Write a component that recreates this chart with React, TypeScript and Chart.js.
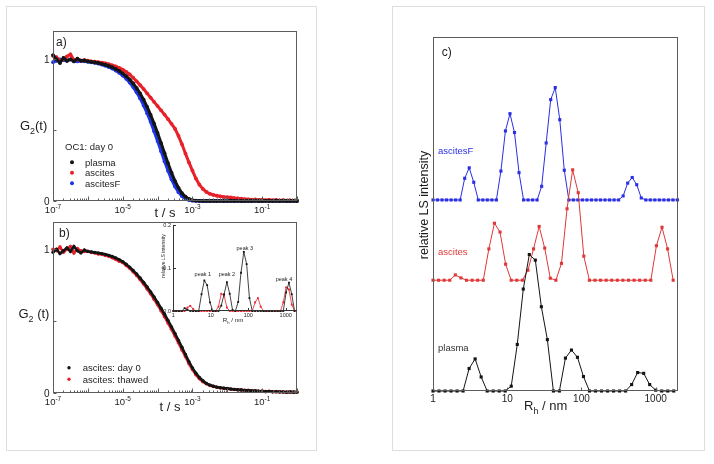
import { useEffect, useRef } from 'react';
import { Chart, registerables } from 'chart.js';

Chart.register(...registerables);

// ============================ DATA ============================
// panels a) and b): log10(t / s) of the plotted correlator channels
const T_EXP = [
  -7, -6.9, -6.8, -6.7, -6.6, -6.5, -6.4, -6.3, -6.2, -6.1,
  -6, -5.9, -5.8, -5.7, -5.6, -5.5, -5.4, -5.3, -5.2, -5.1,
  -5, -4.9, -4.8, -4.7, -4.6, -4.5, -4.4, -4.3, -4.2, -4.1,
  -4, -3.9, -3.8, -3.7, -3.6, -3.5, -3.4, -3.3, -3.2, -3.1,
  -3, -2.9, -2.8, -2.7, -2.6, -2.5, -2.4, -2.3, -2.2, -2.1,
  -2, -1.9, -1.8, -1.7, -1.6, -1.5, -1.4, -1.3, -1.2, -1.1,
  -1, -0.9, -0.8, -0.7, -0.6, -0.5, -0.4, -0.3, -0.2, -0.1, 0,
];

// a) OC1: day 0
const A_PLASMA = [
  1.03, 1.0, 0.975, 1.01, 0.99, 1.0, 0.985, 1.005, 0.99, 0.992,
  0.985, 0.982, 0.979, 0.974, 0.968, 0.962, 0.954, 0.944, 0.932, 0.918,
  0.901, 0.881, 0.858, 0.83, 0.797, 0.759, 0.715, 0.665, 0.608, 0.546,
  0.48, 0.409, 0.337, 0.267, 0.2, 0.141, 0.093, 0.055, 0.03, 0.014,
  0.006, 0.002, 0.001, 0.0, 0.001, 0.0, 0.002, 0.0, 0.001, 0.0,
  0.0, 0.002, 0.0, 0.001, 0.0, 0.0, 0.001, 0.0, 0.002, 0.0,
  0.0, 0.001, 0.0, 0.0, 0.002, 0.0, 0.001, 0.0, 0.0, 0.001, 0.0,
];
const A_ASCITES = [
  1.025, 1.015, 0.99, 1.0, 1.02, 1.035, 0.995, 1.0, 0.99, 0.995,
  0.99, 0.986, 0.983, 0.98, 0.977, 0.972, 0.966, 0.958, 0.95, 0.94,
  0.927, 0.912, 0.893, 0.87, 0.845, 0.818, 0.79, 0.76, 0.73, 0.7,
  0.67, 0.64, 0.61, 0.578, 0.545, 0.51, 0.46, 0.4, 0.335, 0.272,
  0.215, 0.158, 0.115, 0.085, 0.064, 0.051, 0.043, 0.037, 0.033, 0.029,
  0.027, 0.025, 0.021, 0.019, 0.016, 0.013, 0.012, 0.01, 0.011, 0.008,
  0.009, 0.006, 0.008, 0.005, 0.007, 0.004, 0.006, 0.003, 0.005, 0.002, 0.004,
];
const A_ASCITESF = [
  0.98, 0.99, 1.0, 0.995, 0.99, 1.0, 0.99, 0.985, 0.99, 0.986,
  0.983, 0.979, 0.975, 0.97, 0.963, 0.955, 0.946, 0.935, 0.921, 0.905,
  0.886, 0.863, 0.836, 0.804, 0.767, 0.724, 0.675, 0.62, 0.559, 0.493,
  0.423, 0.352, 0.28, 0.213, 0.153, 0.102, 0.062, 0.034, 0.016, 0.007,
  0.002, 0.001, 0.0, 0.0, 0.0, 0.001, 0.0, 0.0, 0.002, 0.0,
  0.001, 0.0, 0.0, 0.001, 0.0, 0.002, 0.0, 0.0, 0.001, 0.0,
  0.0, 0.001, 0.0, 0.002, 0.0, 0.0, 0.001, 0.0, 0.0, 0.001, 0.0,
];

// b) ascites: day 0 vs thawed
const B_DAY0 = [
  0.98, 1.0, 0.97, 0.99, 1.01, 0.985, 1.02, 0.99, 0.975, 0.995,
  0.985, 0.982, 0.978, 0.974, 0.97, 0.965, 0.958, 0.95, 0.94, 0.928,
  0.914, 0.896, 0.876, 0.853, 0.828, 0.8, 0.77, 0.738, 0.704, 0.668,
  0.63, 0.59, 0.548, 0.505, 0.46, 0.414, 0.366, 0.318, 0.268, 0.218,
  0.175, 0.138, 0.108, 0.085, 0.067, 0.055, 0.047, 0.041, 0.037, 0.034,
  0.031, 0.028, 0.025, 0.023, 0.021, 0.019, 0.018, 0.016, 0.015, 0.013,
  0.012, 0.01, 0.011, 0.009, 0.008, 0.009, 0.007, 0.006, 0.008, 0.005, 0.006,
];
const B_THAWED = [
  1.0, 0.99, 1.015, 0.98, 1.0, 1.02, 0.975, 1.005, 0.99, 0.985,
  0.986, 0.978, 0.975, 0.968, 0.965, 0.957, 0.951, 0.941, 0.93, 0.917,
  0.908, 0.888, 0.868, 0.843, 0.818, 0.789, 0.758, 0.724, 0.69, 0.652,
  0.614, 0.573, 0.531, 0.487, 0.443, 0.396, 0.349, 0.3, 0.252, 0.204,
  0.163, 0.127, 0.099, 0.078, 0.064, 0.053, 0.046, 0.04, 0.036, 0.033,
  0.03, 0.026, 0.024, 0.022, 0.022, 0.017, 0.019, 0.014, 0.016, 0.012,
  0.013, 0.009, 0.012, 0.008, 0.01, 0.007, 0.009, 0.005, 0.008, 0.006, 0.007,
];

const T_DECADES = [-7, -6, -5, -4, -3, -2, -1, 0];
const T_LABELED = [-7, -5, -3, -1];
const G2_TICKS = [0, 0.5, 1];
const G2_LABELED = [0, 1];

// c) hydrodynamic radius distributions (R_h / nm) and relative LS intensity
const RH_PLASMA = [
  1.0, 1.205, 1.453, 1.751, 2.11, 2.544, 3.066, 3.696, 4.455, 5.37,
  6.471, 7.801, 9.401, 11.33, 13.66, 16.46, 19.85, 23.92, 28.83, 34.75,
  41.88, 50.48, 60.85, 73.34, 88.4, 106.5, 128.4, 154.8, 186.6, 224.9,
  271.0, 326.7, 393.8, 474.6, 572.0, 689.5, 831.0, 1002, 1207, 1455, 1754,
];
const INT_PLASMA = [
  0, 0, 0, 0, 0, 0, 0.028, 0.04, 0.0175, 0,
  0, 0, 0, 0.006, 0.058, 0.127, 0.17, 0.163, 0.105, 0.064,
  0, 0, 0.041, 0.051, 0.042, 0.018, 0, 0, 0, 0,
  0, 0, 0, 0.008, 0.023, 0.022, 0.008, 0.001, 0, 0, 0,
];
const RH_ASCITES = [
  1, 1.189, 1.414, 1.682, 2, 2.378, 2.828, 3.364, 4, 4.757,
  5.657, 6.727, 8, 9.514, 11.31, 13.45, 16, 19.03, 22.63, 26.91,
  32, 38.05, 45.25, 53.82, 64, 76.11, 90.51, 107.6, 128, 152.2,
  181.0, 215.3, 256, 304.4, 362.0, 430.5, 512, 608.9, 724.1, 861.1,
  1024, 1218, 1448, 1722,
];
const INT_ASCITES = [
  0, 0, 0, 0, 0.0066, 0.0029, 0, 0, 0, 0,
  0.039, 0.071, 0.06, 0.02, 0, 0, 0, 0.0125, 0.039, 0.067,
  0.04, 0.0025, 0, 0.021, 0.089, 0.1375, 0.109, 0.03, 0, 0,
  0, 0, 0, 0, 0, 0, 0, 0, 0, 0,
  0.043, 0.066, 0.039, 0,
];
const RH_ASCITESF = [
  1.0, 1.151, 1.324, 1.524, 1.754, 2.018, 2.323, 2.673, 3.076, 3.54,
  4.074, 4.688, 5.395, 6.209, 7.145, 8.222, 9.462, 10.89, 12.53, 14.42,
  16.6, 19.1, 21.98, 25.29, 29.11, 33.5, 38.55, 44.36, 51.05, 58.75,
  67.61, 77.8, 89.54, 103.0, 118.6, 136.5, 157.0, 180.7, 208.0, 239.3,
  275.4, 317.0, 364.8, 419.8, 483.1, 556.0, 639.8, 736.3, 847.3, 975.0,
  1122, 1291, 1486, 1710, 1968,
];
const INT_ASCITESF = [
  0, 0, 0, 0, 0, 0, 0, 0.027, 0.04, 0.022,
  0, 0, 0, 0, 0, 0.036, 0.086, 0.1075, 0.084, 0.034,
  0, 0, 0, 0, 0.017, 0.071, 0.125, 0.14, 0.1, 0.037,
  0, 0, 0, 0, 0, 0, 0, 0, 0, 0,
  0, 0, 0.005, 0.021, 0.028, 0.019, 0.0025, 0, 0, 0,
  0, 0, 0, 0, 0,
];
// vertical offsets of the stacked distributions in panel c)
const OFFSET_PLASMA = 0;
const OFFSET_ASCITES = 0.138;
const OFFSET_ASCITESF = 0.238;

// inset of b): ascites day 0 (same distribution as INT_ASCITES) vs thawed, on the RH_ASCITES grid
const INT_THAWED = [
  0, 0, 0, 0, 0, 0.008, 0.012, 0.005, 0, 0,
  0, 0, 0, 0, 0, 0, 0.01, 0.04, 0.036, 0.008,
  0, 0, 0, 0, 0, 0, 0, 0, 0, 0.02,
  0.03, 0.01, 0, 0, 0, 0, 0, 0, 0, 0.02,
  0.055, 0.05, 0.015, 0,
];

const RH_DECADES = [1, 10, 100, 1000];
const RH_LABELS = ['1', '10', '100', '1000'];
const INSET_Y_TICKS = [0, 0.1, 0.2];
const INSET_Y_LABELS = ['0.0', '0.1', '0.2'];
const PEAK_NAMES = ['peak 1', 'peak 2', 'peak 3', 'peak 4'];
const PEAK_INDEX = [11, 19, 25, 41];

// ============================ STYLE / LAYOUT ============================
const W = 714;
const H = 464;
const FONT = '"Liberation Sans", Arial, Helvetica, sans-serif';
const AXIS = '#5c5c5c';
const TEXT = '#1c1c1c';
const BLACK = '#141414';
const RED = '#e8202a';
const BLUE = '#1f34e8';
const RED_C = '#e03838';
const BLUE_C = '#2a2ee4';

type Area = { l: number; t: number; r: number; b: number };
const AREA_A: Area = { l: 53, t: 31, r: 297, b: 201 };
const AREA_B: Area = { l: 53, t: 222, r: 297, b: 393 };
const AREA_IN: Area = { l: 173, t: 225, r: 297, b: 311 };
const AREA_C: Area = { l: 433, t: 37, r: 678, b: 391 };

// ============================ DRAW HELPERS ============================
type Part = { s: string; sub?: boolean; sup?: boolean };

function rich(
  ctx: CanvasRenderingContext2D, parts: Part[], x: number, cy: number, size: number,
  align: 'left' | 'center' | 'right' = 'left', color = TEXT,
) {
  const small = size * 0.68;
  const fontOf = (p: Part) => `${p.sub || p.sup ? small : size}px ${FONT}`;
  let total = 0;
  const widths = parts.map((p) => {
    ctx.font = fontOf(p);
    const w = ctx.measureText(p.s).width;
    total += w;
    return w;
  });
  let cx = align === 'center' ? x - total / 2 : align === 'right' ? x - total : x;
  const base = cy + size * 0.36;
  ctx.fillStyle = color;
  ctx.textAlign = 'left';
  ctx.textBaseline = 'alphabetic';
  parts.forEach((p, i) => {
    ctx.font = fontOf(p);
    const y = p.sub ? base + size * 0.3 : p.sup ? base - size * 0.45 : base;
    ctx.fillText(p.s, cx, y);
    cx += widths[i];
  });
}
const txt = (ctx: CanvasRenderingContext2D, s: string, x: number, cy: number, size: number,
  align: 'left' | 'center' | 'right' = 'left', color = TEXT) => rich(ctx, [{ s }], x, cy, size, align, color);

function vtxt(ctx: CanvasRenderingContext2D, s: string, cx: number, cy: number, size: number, color = TEXT) {
  ctx.save();
  ctx.translate(cx, cy);
  ctx.rotate(-Math.PI / 2);
  rich(ctx, [{ s }], 0, 0, size, 'center', color);
  ctx.restore();
}

function seg(ctx: CanvasRenderingContext2D, x1: number, y1: number, x2: number, y2: number) {
  ctx.beginPath();
  ctx.moveTo(x1, y1);
  ctx.lineTo(x2, y2);
  ctx.stroke();
}

function edges(a: { left: number; top: number; right: number; bottom: number }) {
  return {
    L: Math.round(a.left) + 0.5,
    T: Math.round(a.top) + 0.5,
    R: Math.round(a.right) - 0.5,
    B: Math.round(a.bottom) - 0.5,
  };
}

function frame(ctx: CanvasRenderingContext2D, a: any, color = AXIS) {
  const { L, T, R, B } = edges(a);
  ctx.strokeStyle = color;
  ctx.lineWidth = 1;
  ctx.strokeRect(L, T, R - L, B - T);
}

function logTicks(ctx: CanvasRenderingContext2D, scale: any, a: any, decades: number[], major: number, minor: number) {
  const { B } = edges(a);
  decades.forEach((v, k) => {
    const px = Math.round(scale.getPixelForValue(v)) + 0.5;
    seg(ctx, px, B, px, B - major);
    if (minor > 0 && k < decades.length - 1) {
      for (let m = 2; m <= 9; m++) {
        const p = Math.round(scale.getPixelForValue(m * v)) + 0.5;
        seg(ctx, p, B, p, B - minor);
      }
    }
  });
}

function yTicks(ctx: CanvasRenderingContext2D, scale: any, a: any, values: number[], len: number) {
  const { L } = edges(a);
  values.forEach((v) => {
    const py = Math.round(scale.getPixelForValue(v)) + 0.5;
    seg(ctx, L, py, L + len, py);
  });
}

function legend(ctx: CanvasRenderingContext2D, chart: any, dotX: number, y0: number, dy: number, textX: number, r: number, size: number) {
  chart.data.datasets.forEach((ds: any, i: number) => {
    const y = y0 + i * dy;
    ctx.fillStyle = ds.backgroundColor;
    ctx.beginPath();
    ctx.arc(dotX, y, r, 0, Math.PI * 2);
    ctx.fill();
    txt(ctx, ds.label, textX, y, size);
  });
}

// ============================ PANEL DECORATIONS ============================
function drawA(chart: any) {
  const ctx: CanvasRenderingContext2D = chart.ctx;
  const a = chart.chartArea;
  const xs = chart.scales.x;
  const ys = chart.scales.y;
  ctx.save();
  frame(ctx, a);
  ctx.strokeStyle = AXIS;
  logTicks(ctx, xs, a, T_DECADES.map((e) => Math.pow(10, e)), 4, 2);
  yTicks(ctx, ys, a, G2_TICKS, 3);
  G2_LABELED.forEach((v) => txt(ctx, String(v), a.left - 3.5, ys.getPixelForValue(v), 10, 'right'));
  T_LABELED.forEach((e) =>
    rich(ctx, [{ s: '10' }, { s: String(e), sup: true }], xs.getPixelForValue(Math.pow(10, e)), a.bottom + 8.5, 9.5, 'center'));
  rich(ctx, [{ s: 't / s' }], 165, 212, 13, 'center');
  rich(ctx, [{ s: 'G' }, { s: '2', sub: true }, { s: '(t)' }], 20, 125, 13);
  txt(ctx, 'a)', 56, 41.7, 12);
  txt(ctx, 'OC1: day 0', 65, 147, 9.5);
  legend(ctx, chart, 72, 162.3, 10.5, 85, 2, 9.5);
  ctx.restore();
}

function drawB(chart: any) {
  const ctx: CanvasRenderingContext2D = chart.ctx;
  const a = chart.chartArea;
  const xs = chart.scales.x;
  const ys = chart.scales.y;
  ctx.save();
  frame(ctx, a);
  ctx.strokeStyle = AXIS;
  logTicks(ctx, xs, a, T_DECADES.map((e) => Math.pow(10, e)), 4, 2);
  yTicks(ctx, ys, a, G2_TICKS, 3);
  G2_LABELED.forEach((v) => txt(ctx, String(v), a.left - 3.5, ys.getPixelForValue(v), 10, 'right'));
  T_LABELED.forEach((e) =>
    rich(ctx, [{ s: '10' }, { s: String(e), sup: true }], xs.getPixelForValue(Math.pow(10, e)), a.bottom + 9, 9.5, 'center'));
  rich(ctx, [{ s: 't / s' }], 170, 406, 13, 'center');
  rich(ctx, [{ s: 'G' }, { s: '2', sub: true }, { s: ' (t)' }], 18.5, 313, 13);
  txt(ctx, 'b)', 59, 232.3, 12);
  legend(ctx, chart, 69, 367.7, 11.6, 82.7, 1.7, 9.5);
  ctx.restore();
}

function drawInset(chart: any) {
  const ctx: CanvasRenderingContext2D = chart.ctx;
  const a = chart.chartArea;
  const xs = chart.scales.x;
  const ys = chart.scales.y;
  const { L, B } = edges(a);
  ctx.save();
  ctx.strokeStyle = '#333';
  ctx.lineWidth = 1;
  seg(ctx, L, Math.round(a.top), L, B);
  seg(ctx, L, B, Math.round(a.right), B);
  logTicks(ctx, xs, a, RH_DECADES, 2.5, 0);
  yTicks(ctx, ys, a, INSET_Y_TICKS, 2.5);
  INSET_Y_TICKS.forEach((v, i) => txt(ctx, INSET_Y_LABELS[i], a.left - 2, ys.getPixelForValue(v), 5.5, 'right'));
  RH_DECADES.forEach((v, i) => txt(ctx, RH_LABELS[i], xs.getPixelForValue(v), a.bottom + 4.5, 5.5, 'center'));
  rich(ctx, [{ s: 'R' }, { s: 'h', sub: true }, { s: ' / nm' }], 233, 319.5, 6.2, 'center');
  vtxt(ctx, 'relative LS intensity', 162.7, 256, 5);
  const dx = [-1.5, 0, 1, -5];
  const dy = [-6.5, -8, -3.5, -4];
  PEAK_INDEX.forEach((idx, k) => {
    const px = xs.getPixelForValue(RH_ASCITES[idx]) + dx[k];
    const py = ys.getPixelForValue(INT_ASCITES[idx]) + dy[k];
    txt(ctx, PEAK_NAMES[k], px, py, 5.5, 'center');
  });
  ctx.restore();
}

function drawC(chart: any) {
  const ctx: CanvasRenderingContext2D = chart.ctx;
  const a = chart.chartArea;
  const xs = chart.scales.x;
  ctx.save();
  frame(ctx, a);
  ctx.strokeStyle = AXIS;
  logTicks(ctx, xs, a, RH_DECADES, 3, 0);
  RH_DECADES.forEach((v, i) => txt(ctx, RH_LABELS[i], xs.getPixelForValue(v), a.bottom + 7.5, 10, 'center'));
  rich(ctx, [{ s: 'R' }, { s: 'h', sub: true }, { s: ' / nm' }], 545.7, 405.5, 13, 'center');
  vtxt(ctx, 'relative LS intensity', 423, 205, 12.5);
  txt(ctx, 'c)', 441.7, 51.7, 12);
  const labelY = [347.7, 251.7, 151];
  const labelColor = ['#333', RED_C, BLUE_C];
  chart.data.datasets.forEach((ds: any, i: number) => txt(ctx, ds.label, 438, labelY[i], 9.5, 'left', labelColor[i]));
  ctx.restore();
}

// ============================ CHART FACTORY ============================
function makeChart(canvas: HTMLCanvasElement, area: Area, x: any, y: any, datasets: any[], draw: (c: any) => void) {
  return new Chart(canvas, {
    type: 'scatter',
    data: { datasets },
    options: {
      responsive: false,
      animation: false,
      events: [],
      layout: { autoPadding: false, padding: { left: area.l, top: area.t, right: W - area.r, bottom: H - area.b } },
      plugins: { legend: { display: false }, tooltip: { enabled: false } },
      scales: { x: { ...x, display: false }, y: { ...y, display: false } },
      elements: { line: { tension: 0 } },
    } as any,
    plugins: [{ id: 'deco', afterDatasetsDraw: (c: any) => draw(c) }],
  });
}

const g2Points = (vals: number[]) => T_EXP.map((e, i) => ({ x: Math.pow(10, e), y: vals[i] }));
const g2Set = (label: string, vals: number[], color: string, width: number, r: number) => ({
  label, data: g2Points(vals), showLine: true, borderColor: color, backgroundColor: color,
  borderWidth: width, pointRadius: r, pointBorderWidth: 0, pointStyle: 'circle', clip: false,
});
const distSet = (label: string, rh: number[], vals: number[], offset: number, color: string, width: number, r: number) => ({
  label, data: rh.map((v, i) => ({ x: v, y: offset + vals[i] })), showLine: true,
  borderColor: color, backgroundColor: color, borderWidth: width, pointRadius: r,
  pointBorderWidth: 0, pointStyle: 'rect', clip: false,
});

export default function App() {
  const refC = useRef<HTMLCanvasElement>(null);
  const refA = useRef<HTMLCanvasElement>(null);
  const refB = useRef<HTMLCanvasElement>(null);
  const refI = useRef<HTMLCanvasElement>(null);

  useEffect(() => {
    const tAxis = { type: 'logarithmic', min: 1e-7, max: 1 };
    const charts = [
      makeChart(refC.current!, AREA_C, { type: 'logarithmic', min: 1, max: 2000 }, { type: 'linear', min: 0, max: 0.441 }, [
        distSet('plasma', RH_PLASMA, INT_PLASMA, OFFSET_PLASMA, BLACK, 1, 2.2),
        distSet('ascites', RH_ASCITES, INT_ASCITES, OFFSET_ASCITES, RED_C, 1, 2.2),
        distSet('ascitesF', RH_ASCITESF, INT_ASCITESF, OFFSET_ASCITESF, BLUE_C, 1, 2.2),
      ], drawC),
      makeChart(refA.current!, AREA_A, tAxis, { type: 'linear', min: 0, max: 1.2 }, [
        g2Set('plasma', A_PLASMA, BLACK, 3, 1.9),
        g2Set('ascites', A_ASCITES, RED, 3, 1.9),
        g2Set('ascitesF', A_ASCITESF, BLUE, 3, 1.9),
      ], drawA),
      makeChart(refB.current!, AREA_B, tAxis, { type: 'linear', min: 0, max: 1.19 }, [
        g2Set('ascites: day 0', B_DAY0, BLACK, 2.6, 1.7),
        g2Set('ascites: thawed', B_THAWED, RED, 2.6, 1.8),
      ], drawB),
      makeChart(refI.current!, AREA_IN, { type: 'logarithmic', min: 0.98, max: 2000 }, { type: 'linear', min: 0, max: 0.2 }, [
        distSet('ascites: day 0', RH_ASCITES, INT_ASCITES, 0, BLACK, 0.8, 1.3),
        distSet('ascites: thawed', RH_ASCITES, INT_THAWED, 0, RED, 0.8, 1.3),
      ], drawInset),
    ];
    return () => charts.forEach((c) => c.destroy());
  }, []);

  const abs = { position: 'absolute' as const, left: 0, top: 0 };
  return (
    <div style={{ position: 'absolute', left: 0, top: 0, width: W, height: H, background: '#fff', overflow: 'hidden' }}>
      <div style={{ position: 'absolute', left: 6, top: 6, width: 311, height: 445, boxSizing: 'border-box', border: '1px solid #dedede' }} />
      <div style={{ position: 'absolute', left: 392, top: 6, width: 313, height: 445, boxSizing: 'border-box', border: '1px solid #dedede' }} />
      <canvas ref={refC} width={W} height={H} style={abs} />
      <canvas ref={refA} width={W} height={H} style={abs} />
      <canvas ref={refB} width={W} height={H} style={abs} />
      <canvas ref={refI} width={W} height={H} style={abs} />
    </div>
  );
}
